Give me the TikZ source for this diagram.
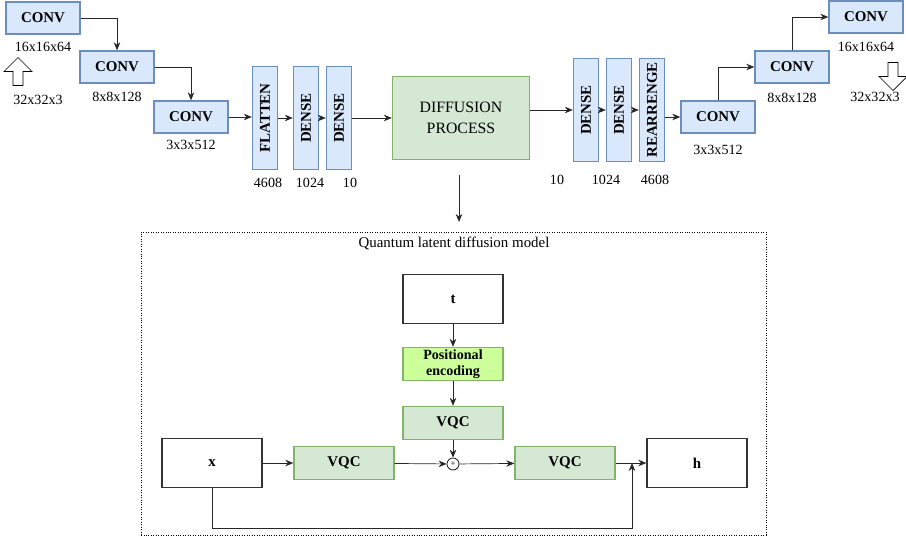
\documentclass[tikz,border=0pt]{standalone}
\usepackage{fontspec}
\setmainfont{Liberation Serif}
\usetikzlibrary{shapes,positioning,fit,calc,arrows.meta}
\definecolor{blueFill}{HTML}{DAE8FC}
\definecolor{blueLine}{HTML}{6C8EBF}
\definecolor{greenFill}{HTML}{D5E8D4}
\definecolor{greenLine}{HTML}{82B366}
\definecolor{limeFill}{HTML}{CCFF99}
\tikzset{
    block/.style={draw=blueLine, fill=blueFill, thick, minimum width=1.48cm, minimum height=0.64cm, font=\fontsize{8.5}{9}\selectfont\bfseries, inner sep=0pt},
    slab/.style={draw=blueLine, fill=blueFill, thick, minimum width=0.5cm, minimum height=2.06cm, inner sep=0pt},
    slabtext/.style={rotate=90, font=\fontsize{8.5}{9}\selectfont\bfseries},
    qbox/.style={draw=greenLine, fill=greenFill, thick, minimum width=2cm, minimum height=0.66cm, font=\fontsize{8.5}{9}\selectfont\bfseries, align=center, inner sep=0pt},
    plainbox/.style={draw=black!80, thick, fill=white, minimum width=2cm, minimum height=0.98cm, font=\fontsize{8.5}{9}\selectfont\bfseries},
    dim/.style={font=\fontsize{8}{9}\selectfont},
    link/.style={-{Stealth[length=1.6mm,width=1.3mm]}, black!85},
    hollow/.style={draw, fill=white, single arrow, single arrow head extend=1.2mm, minimum height=0.56cm, minimum width=0.56cm, inner sep=0.6mm}
}
\begin{document}
\begin{tikzpicture}[x=0.02cm, y=-0.02cm]
    \useasboundingbox (0,0) rectangle (906,538);

    % Encoder side
    \node[block] (E1) at (43,18) {CONV};
    \node[block] (E2) at (117,67) {CONV};
    \node[block] (E3) at (191,117) {CONV};
    \node[dim] (lE1) at (43,47) {16x16x64};
    \node[dim] (lE2) at (117,97) {8x8x128};
    \node[dim] (lE3) at (191,145) {3x3x512};
    \node[hollow, shape border rotate=90] (inArrow) at (18,74) {};
    \node[dim] (lIn) at (38,100) {32x32x3};

    \node[slab] (F) at (265,118) {}; \node[slabtext] at (F) {FLATTEN};
    \node[slab] (D1) at (306,118) {}; \node[slabtext] at (D1) {DENSE};
    \node[slab] (D2) at (339,118) {}; \node[slabtext] at (D2) {DENSE};
    \node[dim] (lF) at (268,183) {4608};
    \node[dim] (lD1) at (310,183) {1024};
    \node[dim] (lD2) at (350,183) {10};

    % Diffusion
    \node[qbox, font=\fontsize{9}{12}\selectfont, minimum width=2.74cm, minimum height=1.66cm] (Diff) at (461,118) {DIFFUSION\\PROCESS};

    % Decoder side
    \node[slab] (R1) at (586,110) {}; \node[slabtext] at (R1) {DENSE};
    \node[slab] (R2) at (619,110) {}; \node[slabtext] at (R2) {DENSE};
    \node[slab] (R3) at (652,110) {}; \node[slabtext] at (R3) {REARRENGE};
    \node[dim] (lR1) at (557,180) {10};
    \node[dim] (lR2) at (606,180) {1024};
    \node[dim] (lR3) at (655,180) {4608};

    \node[block] (C1) at (718,117) {CONV};
    \node[block] (C2) at (792,67) {CONV};
    \node[block] (C3) at (866,17) {CONV};
    \node[dim] (lC1) at (718,150) {3x3x512};
    \node[dim] (lC2) at (792,98) {8x8x128};
    \node[dim] (lC3) at (866,47) {16x16x64};
    \node[hollow, shape border rotate=270] (outArrow) at (893,74) {};
    \node[dim] (lOut) at (875,97) {32x32x3};

    \begin{scope}[link]
        \draw (E1.east) -| (E2.north);
        \draw (E2.east) -| (E3.north);
        \draw (E3.east) -- (F.west |- E3.east);
        \draw (F) -- (D1);
        \draw (D1) -- (D2);
        \draw (D2.east) -- (Diff.west |- D2.east);
        \draw (Diff.east |- R1.east) -- (R1.west);
        \draw (R1) -- (R2);
        \draw (R2) -- (R3);
        \draw (R3.east |- C1.west) -- (C1.west);
        \draw (C1.north) |- (C2.west);
        \draw (C2.north) |- (C3.west);
    \end{scope}

    % Quantum latent diffusion model
    \coordinate (downTop) at (459,175);
    \coordinate (downEnd) at (459,222);
    \node[draw, densely dotted, minimum width=12.5cm, minimum height=6.06cm, inner sep=0pt] (QLDM) at (453.5,383.5) {};
    \node[font=\fontsize{8.5}{9}\selectfont] (title) at (454,243) {Quantum latent diffusion model};
    \draw[link] (downTop) -- (downEnd);

    \node[plainbox] (t) at (453,299) {t};
    \node[qbox, fill=limeFill, font=\fontsize{8}{9}\selectfont\bfseries] (pos) at (453,364) {Positional\\encoding};
    \node[qbox] (vqcT) at (453,423) {VQC};
    \node[draw, circle, fill=white, minimum size=0.24cm, inner sep=0pt, font=\fontsize{5}{5}\selectfont] (plus) at (453,464) {+};
    \node[plainbox] (x) at (212,463) {x};
    \node[qbox] (vqcL) at (344,463) {VQC};
    \node[qbox] (vqcR) at (565,463) {VQC};
    \node[plainbox] (h) at (697,463) {h};
    \coordinate (skipL) at (212,528);
    \coordinate (skipR) at (632,528);

    \begin{scope}[link]
        \draw (t) -- (pos);
        \draw (pos) -- (vqcT);
        \draw (vqcT) -- (plus);
        \draw (x) -- (vqcL);
        \draw (vqcL) -- (plus);
        \draw (plus) -- (vqcR);
        \draw (vqcR) -- (h);
        \draw (x.south) -- (skipL) -- (skipR) -- (skipR |- h.west);
    \end{scope}
\end{tikzpicture}
\end{document}
